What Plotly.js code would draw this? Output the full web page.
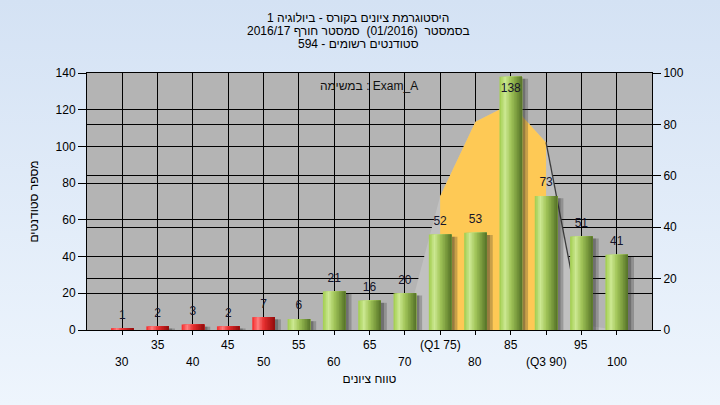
<!DOCTYPE html>
<html><head><meta charset="utf-8">
<script src="https://cdn.plot.ly/plotly-3.0.1.min.js"></script>
<style>
html,body{margin:0;padding:0;}
body{width:720px;height:405px;background:linear-gradient(180deg,#d4e2f4 0%,#eef5fd 100%);overflow:hidden;}
#chart{width:720px;height:405px;}
</style>
</head><body><div id="chart"></div>
<script>
// ---- data ----
const categories = [30, 35, 40, 45, 50, 55, 60, 65, 70, 75, 80, 85, 90, 95, 100];
const counts     = [1, 2, 3, 2, 7, 6, 21, 16, 20, 52, 53, 138, 73, 51, 41];
const tickLabels = ['30','35','40','45','50','55','60','65','70','(Q1 75)','80','85','(Q3 90)','95','100'];
const curve      = [0, 0, 0, 0, 0, 0, 0, 0, 0, 52, 81, 88, 73, 2, 0];
const q1 = 75, q3 = 90, passMark = 55;
const titleLines = ['היסטוגרמת ציונים בקורס - ביולוגיה 1', 'בסמסטר  (01/2016)  סמסטר חורף 2016/17', 'סטודנטים רשומים - 594'];
const taskLabel = 'במשימה : Exam_A';
const xTitle = 'טווח ציונים';
const yTitle = 'מספר סטודנטים';

// ---- styling helpers ----
const FONT = 'Liberation Sans, Arial, DejaVu Sans, sans-serif';
const Y_MAX = 140, Y2_MAX = 100;
const BAR_W = 3.2;
const greenStops = [[0,[160,204,76]],[0.25,[204,232,146]],[0.5,[163,198,90]],[0.8,[116,149,58]],[1,[84,112,40]]];
const redStops   = [[0,[244,40,40]],[0.25,[255,126,126]],[0.5,[232,48,48]],[0.8,[182,24,24]],[1,[140,14,14]]];
function interp(stops, t){
  for(let i=0;i<stops.length-1;i++){
    const [a,ca]=stops[i],[b,cb]=stops[i+1];
    if(t>=a && t<=b){
      const f=(t-a)/(b-a);
      const c=ca.map((v,j)=>Math.round(v+(cb[j]-v)*f));
      return 'rgb('+c.join(',')+')';
    }
  }
  return 'rgb('+stops[stops.length-1][1].join(',')+')';
}

const traces = [];
// distribution curve (right axis = base subplot, drawn below the bars)
traces.push({x: categories, y: curve, type: 'scatter', mode: 'lines',
  fill: 'tozeroy', fillcolor: '#c1c1c1', line: {width: 0, color: 'rgba(0,0,0,0)'}, hoverinfo: 'skip', showlegend: false});
const iqr = categories.map((c,i)=>i).filter(i => categories[i] >= q1 && categories[i] <= q3);
traces.push({x: iqr.map(i=>categories[i]), y: iqr.map(i=>curve[i]), type: 'scatter', mode: 'lines',
  fill: 'tozeroy', fillcolor: '#fec955', line: {width: 0, color: 'rgba(0,0,0,0)'}, hoverinfo: 'skip', showlegend: false});
const tail = categories.map((c,i)=>i).filter(i => categories[i] >= q3 && categories[i] <= q3 + 5);
traces.push({x: tail.map(i=>categories[i]), y: tail.map(i=>curve[i]), type: 'scatter', mode: 'lines',
  line: {width: 1.3, color: '#3c3c3c'}, hoverinfo: 'skip', showlegend: false});

// shadows (left axis, overlay subplot)
[[0.45,'rgba(40,40,40,0.30)'],[0.85,'rgba(40,40,40,0.25)']].forEach(([dx,col]) => {
  traces.push({x: categories, y: counts.map(v => Math.max(v - 1.2, 0)), type: 'bar', yaxis: 'y2',
    width: BAR_W, offset: -BAR_W/2 + dx, marker: {color: col, line: {width: 0}}, hoverinfo: 'skip', showlegend: false});
});

// cylinder bars as gradient stripes (each stripe runs to the bar's right edge to avoid seams)
const N = 14;
for(let k=0;k<N;k++){
  const t=(k+0.5)/N;
  traces.push({x: categories, y: counts, type: 'bar', yaxis: 'y2',
    width: BAR_W - k*BAR_W/N, offset: -BAR_W/2 + k*BAR_W/N,
    marker: {color: categories.map(c => interp(c < passMark ? redStops : greenStops, t)), line: {width: 0}},
    hovertemplate: '%{x}: %{y}<extra></extra>', showlegend: false});
}

// value labels
traces.push({x: categories, y: counts, type: 'scatter', mode: 'markers+text', yaxis: 'y2',
  text: counts.map(String), textposition: counts.map(v => v > Y_MAX*0.93 ? 'bottom center' : 'top center'),
  marker: {size: 9, color: 'rgba(0,0,0,0)'}, textfont: {family: FONT, size: 12, color: '#14142a'},
  cliponaxis: false, hoverinfo: 'skip', showlegend: false});

const annotations = [];
const pyToPaper = p => (330 - p) / 257;
const pxToPaper = p => (p - 87) / 565;
[18, 31, 44].forEach((p, i) => annotations.push({text: titleLines[i], xref: 'paper', yref: 'paper',
  x: pxToPaper(358), y: pyToPaper(p), xanchor: 'center', yanchor: 'middle', showarrow: false,
  font: {family: FONT, size: 12, color: '#000'}}));
annotations.push({text: taskLabel, xref: 'paper', yref: 'paper', x: pxToPaper(369), y: pyToPaper(86),
  xanchor: 'center', yanchor: 'middle', showarrow: false, font: {family: FONT, size: 12, color: '#101010'}});
categories.forEach((c, i) => annotations.push({text: tickLabels[i], xref: 'x', yref: 'paper', x: c,
  y: pyToPaper(i % 2 === 0 ? 362 : 345), xanchor: 'center', yanchor: 'middle', showarrow: false,
  font: {family: FONT, size: 12, color: '#000'}}));

const axisCommon = {ticks: 'outside', ticklen: 8, tickcolor: '#000', showgrid: true, gridcolor: '#000', gridwidth: 1,
  showline: true, linecolor: '#000', zeroline: false, fixedrange: true, dtick: 20,
  tickfont: {family: FONT, size: 12, color: '#000'}};

const layout = {
  width: 720, height: 405,
  margin: {l: 87, r: 68, t: 73, b: 75},
  paper_bgcolor: 'rgba(0,0,0,0)', plot_bgcolor: '#b4b4b4',
  barmode: 'overlay', showlegend: false,
  font: {family: FONT, size: 12, color: '#000'},
  xaxis: {range: [25, 105], tickvals: categories, showticklabels: false, ticks: 'outside', ticklen: 4,
    tickcolor: '#000', showgrid: true, gridcolor: '#000', gridwidth: 1, showline: true, linecolor: '#000',
    linewidth: 1, mirror: true, zeroline: false, fixedrange: true,
    title: {text: xTitle, standoff: 40, font: {family: FONT, size: 12, color: '#000'}}},
  yaxis: Object.assign({}, axisCommon, {range: [0, Y2_MAX], side: 'right'}),
  yaxis2: Object.assign({}, axisCommon, {range: [0, Y_MAX], side: 'left', overlaying: 'y',
    title: {text: yTitle, standoff: 14, font: {family: FONT, size: 12, color: '#000'}}}),
  annotations: annotations
};
Plotly.newPlot('chart', traces, layout, {displayModeBar: false, staticPlot: true});
</script>
</body></html>
